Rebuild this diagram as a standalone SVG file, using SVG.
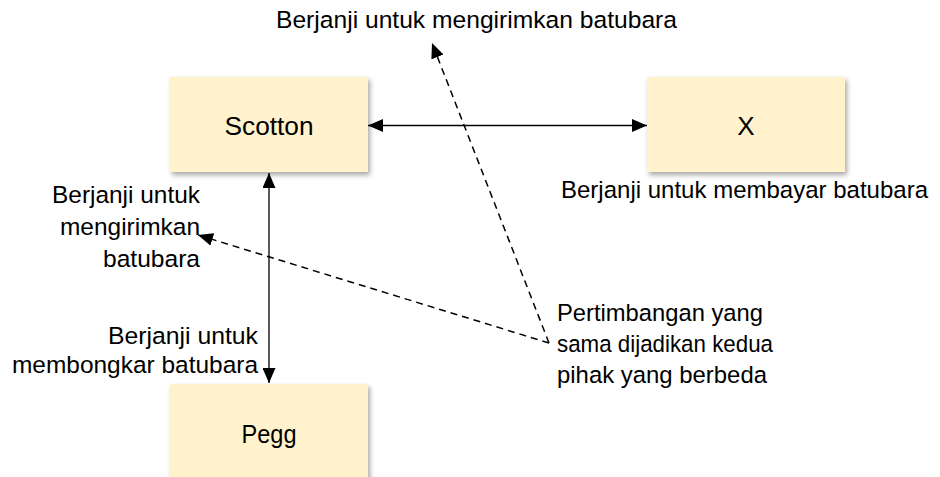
<svg xmlns="http://www.w3.org/2000/svg" width="940" height="477" viewBox="0 0 940 477">
<style>
.box{fill:#FFF2CC;filter:url(#sh)}
.t{font-family:"Liberation Sans",Arial,sans-serif;font-size:24.5px;fill:#000}
.n{font-family:"Liberation Sans",Arial,sans-serif;font-size:26px;fill:#000;text-anchor:middle}
.solid{stroke:#000;stroke-width:1.3;fill:none}
.dash{stroke:#000;stroke-width:1.5;fill:none;stroke-dasharray:7 5}
</style>
<defs>
<filter id="sh" x="-10%" y="-10%" width="130%" height="130%">
<feDropShadow dx="2" dy="3" stdDeviation="2.5" flood-color="#000" flood-opacity="0.35"/>
</filter>
<marker id="ah" markerUnits="userSpaceOnUse" viewBox="0 0 15 13" refX="15" refY="6.5" markerWidth="15" markerHeight="13" orient="auto-start-reverse">
<path d="M0,0 L15,6.5 L0,13 Z" fill="#000"/>
</marker>
</defs>
<g id="scotton">
<rect class="box" x="170" y="77" width="198" height="95"/>
<text class="n" x="269" y="135" textLength="89" lengthAdjust="spacingAndGlyphs">Scotton</text>
</g>
<g id="x">
<rect class="box" x="647" y="77" width="198" height="95"/>
<text class="n" x="746" y="135">X</text>
</g>
<g id="pegg">
<rect class="box" x="170" y="384" width="198" height="96"/>
<text class="n" x="269" y="443" textLength="55" lengthAdjust="spacingAndGlyphs">Pegg</text>
</g>
<g id="connectors">
<line class="solid" x1="368" y1="125.5" x2="647" y2="125.5" marker-start="url(#ah)" marker-end="url(#ah)"/>
<line class="solid" x1="269" y1="173" x2="269" y2="383" marker-start="url(#ah)" marker-end="url(#ah)"/>
<line class="dash" x1="549" y1="343" x2="432" y2="43" marker-end="url(#ah)"/>
<line class="dash" x1="549" y1="343" x2="198" y2="235" marker-end="url(#ah)"/>
</g>
<g id="labels">
<text class="t" x="276" y="28" textLength="401" lengthAdjust="spacingAndGlyphs">Berjanji untuk mengirimkan batubara</text>
<text class="t" x="561" y="198" textLength="367" lengthAdjust="spacingAndGlyphs">Berjanji untuk membayar batubara</text>
<text class="t" x="200" y="203" text-anchor="end" textLength="148" lengthAdjust="spacingAndGlyphs">Berjanji untuk</text>
<text class="t" x="200" y="235" text-anchor="end" textLength="140" lengthAdjust="spacingAndGlyphs">mengirimkan</text>
<text class="t" x="200" y="267" text-anchor="end" textLength="97" lengthAdjust="spacingAndGlyphs">batubara</text>
<text class="t" x="258" y="344" text-anchor="end" textLength="150" lengthAdjust="spacingAndGlyphs">Berjanji untuk</text>
<text class="t" x="258" y="373" text-anchor="end" textLength="246" lengthAdjust="spacingAndGlyphs">membongkar batubara</text>
<text class="t" x="557" y="321" textLength="206" lengthAdjust="spacingAndGlyphs">Pertimbangan yang</text>
<text class="t" x="557" y="352" textLength="216" lengthAdjust="spacingAndGlyphs">sama dijadikan kedua</text>
<text class="t" x="557" y="383" textLength="210" lengthAdjust="spacingAndGlyphs">pihak yang berbeda</text>
</g>
</svg>
